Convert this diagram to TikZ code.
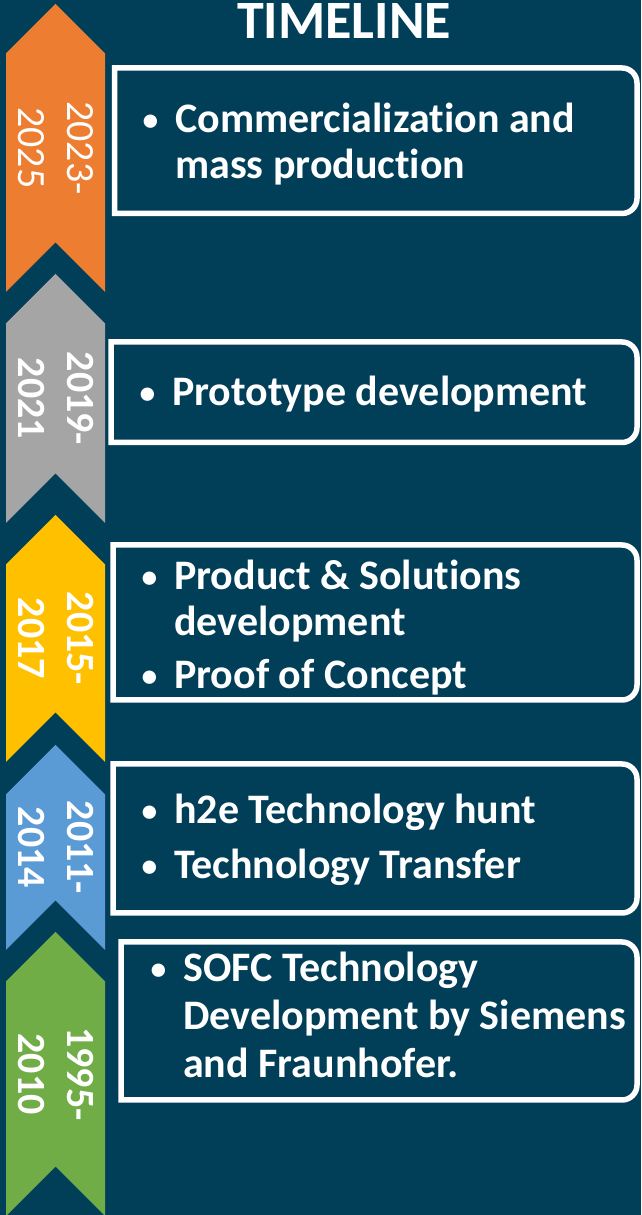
\documentclass[tikz,border=0pt]{standalone}
\usepackage{fontspec}
\setmainfont{Carlito}[Ligatures=NoCommon]
\usepackage{tikz}
\usetikzlibrary{calc}
\definecolor{bgteal}{RGB}{1,63,89}
\definecolor{chorange}{RGB}{237,125,49}
\definecolor{chgray}{RGB}{165,165,165}
\definecolor{chyellow}{RGB}{255,192,0}
\definecolor{chblue}{RGB}{91,155,213}
\definecolor{chgreen}{RGB}{112,173,71}
\newcommand{\itm}{\llap{\raisebox{2.5pt}{\scalebox{0.75}{\textbullet}}\hspace{17pt}}}
% chevron: colour, apex y, bottom y
\newcommand{\tlchev}[3]{\fill[#1] (55.5,#2) -- (105,#2-49.5) -- (105,#3) -- (55.5,#3+49.5) -- (6,#3) -- (6,#2-49.5) -- cycle;}
% frame: left x, top y, bottom y
\newcommand{\tlpanel}[3]{\draw[panelline] (#1,#3) -- (#1,#2) -- (622,#2) arc[start angle=90,end angle=0,radius=15pt] -- (637,#3+15) arc[start angle=0,end angle=-90,radius=15pt] -- cycle;}

\begin{document}
\begin{tikzpicture}[x=1pt,y=1pt,
  panelline/.style={draw=white, line width=5.5pt},
  years/.style={rotate=-90, align=center, text=white, inner sep=0pt, font=\fontsize{40}{49}\selectfont\bfseries},
  items/.style={anchor=base west, text=white, inner sep=0pt, font=\fontsize{42}{46}\selectfont\bfseries}]
\fill[bgteal] (0,0) rectangle (641,1215);
\useasboundingbox (0,0) rectangle (641,1215);

\node[anchor=base, text=white, font=\fontsize{54}{60}\selectfont\bfseries] (title) at (344,1176) {TIMELINE};

% ribbon
\tlchev{chorange}{1211}{923}
\tlchev{chgray}{941}{692}
\tlchev{chyellow}{700}{453}
\tlchev{chblue}{470}{265}
\tlchev{chgreen}{283}{-1}

\node[years, font=\fontsize{40}{49}\selectfont] (y2023) at (55.5,1067) {2023-\\2025};
\node[years] (y2019) at (55.5,816.5) {2019-\\2021};
\node[years] (y2015) at (55.5,576.5) {2015-\\2017};
\node[years] (y2011) at (55.5,367.5) {2011-\\2014};
\node[years] (y1995) at (55.5,141) {1995-\\2010};

% panels
\tlpanel{114.5}{1147}{1001.5}
\tlpanel{111}{873}{772.5}
\tlpanel{113}{670}{515}
\tlpanel{113}{451}{302}
\tlpanel{121}{273}{115}

\node[items] (commerce) at (175,1082) {\begin{tabular}[t]{@{}l@{}}\itm Commercialization and\\ mass production\end{tabular}};
\node[items] (proto) at (172,809) {\begin{tabular}[t]{@{}l@{}}\itm Prototype development\end{tabular}};
\node[items] (product) at (174,625) {\begin{tabular}[t]{@{}l@{}}\itm Product \& Solutions\\ development\\[7pt] \itm Proof of Concept\end{tabular}};
\node[items] (hunt) at (174,391) {\begin{tabular}[t]{@{}l@{}}\itm h2e Technology hunt\\[9pt] \itm Technology Transfer\end{tabular}};
\node[items] (sofc) at (183,233) {\begin{tabular}[t]{@{}l@{}}\itm SOFC Technology\\[2pt] Development by Siemens\\[2pt] and Fraunhofer.\end{tabular}};
\end{tikzpicture}
\end{document}
